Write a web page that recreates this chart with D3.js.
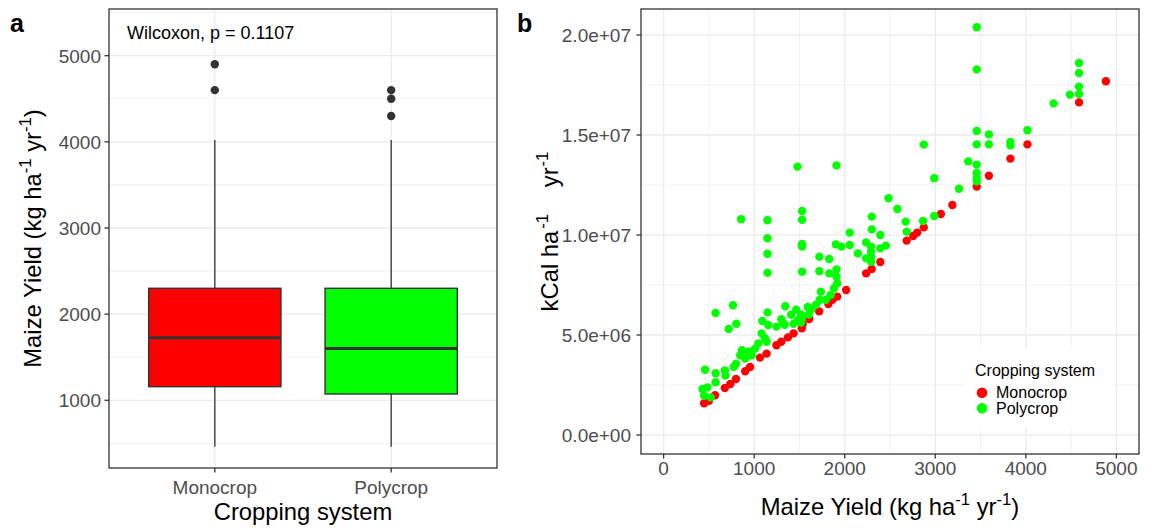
<!DOCTYPE html>
<html><head><meta charset="utf-8">
<script src="https://cdn.jsdelivr.net/npm/d3@7"></script>
<style>body{margin:0;background:#fff}svg{display:block}text{font-family:"Liberation Sans",Arial,sans-serif}</style>
</head><body>
<svg id="c" width="1160" height="528"></svg>
<script>
// ---------- Panel a data ----------
const boxCategories = ["Monocrop", "Polycrop"];
const boxFill = ["#FF0000", "#00FF00"];
const boxLowerWhisker = [460, 460];
const boxQ1 = [1158, 1073];
const boxMedian = [1727, 1600];
const boxQ3 = [2300, 2300];
const boxUpperWhisker = [4020, 4020];
const boxOutliers = [[4900, 4600], [4600, 4500, 4300]];
const aTicks = [1000, 2000, 3000, 4000, 5000];
const aTickLabels = ["1000", "2000", "3000", "4000", "5000"];
const aMinor = [500, 1500, 2500, 3500, 4500, 5500];
const wilcoxLabel = "Wilcoxon, p = 0.1107";

// ---------- Panel b data ----------
const monoYield = [447,501,567,676,737,799,901,955,1064,1137,1246,1300,1373,1435,1526,1536,1609,1718,1820,1864,1918,2016,2236,2298,2393,2684,2756,2800,2873,3062,3189,3458,3592,3830,4018,4588,4884];
const monoKcal = [1.59e6,1.71e6,1.99e6,2.35e6,2.55e6,2.80e6,3.19e6,3.40e6,3.87e6,4.07e6,4.49e6,4.66e6,4.88e6,5.08e6,5.34e6,5.55e6,5.80e6,6.18e6,6.55e6,6.76e6,6.92e6,7.25e6,8.08e6,8.30e6,8.65e6,9.72e6,9.95e6,10.12e6,10.38e6,11.05e6,11.50e6,12.42e6,12.96e6,13.82e6,14.53e6,16.63e6,17.69e6];
const polyYield = [3458,3458,3458,3458,3458,3458,3458,3458,3592,3592,3830,3830,4018,4307,4487,4588,4588,4588,4588,3364,
  1909,2873,2989,3262,2989,2484,2582,2673,2865,2684,2298,2298,2393,2055,2455,2393,2236,2291,2291,2291,2291,2236,2145,2055,1964,1902,1720,1829,1720,1829,1909,1909,1479,
  856,1147,1147,1147,1147,1529,1529,1529,1529,1529,1918,1882,1845,1791,1736,1725,1682,1627,1602,1525,1482,
  574,766,719,803,1148,1344,1090,1155,1246,1337,1435,1518,1082,1119,1046,1137,1010,937,865,846,973,901,799,774,676,574,458,683,574,483,429,447,519,1409,1464,1300,1319,1518,1591];
const polyKcal = [20.39e6,18.28e6,15.2e6,14.53e6,13.52e6,13.1e6,12.85e6,12.68e6,15.03e6,14.53e6,14.65e6,14.48e6,15.24e6,16.58e6,17.02e6,18.6e6,18.1e6,17.42e6,17.05e6,13.68e6,
  13.48e6,14.52e6,12.84e6,12.31e6,10.95e6,11.84e6,11.3e6,10.67e6,10.7e6,10.17e6,10.92e6,10.28e6,10.0e6,10.12e6,9.47e6,9.33e6,9.63e6,9.42e6,9.16e6,8.91e6,8.66e6,8.83e6,9.08e6,9.5e6,9.42e6,9.53e6,8.91e6,8.8e6,8.19e6,8.08e6,8.28e6,7.91e6,13.42e6,
  10.79e6,10.74e6,9.84e6,9.06e6,8.11e6,11.2e6,10.76e6,9.55e6,9.42e6,8.16e6,7.58e6,7.34e6,7.0e6,6.76e6,7.17e6,6.76e6,6.51e6,6.27e6,6.02e6,5.85e6,5.74e6,
  6.1e6,6.49e6,5.3e6,5.56e6,6.13e6,6.44e6,5.7e6,5.5e6,5.42e6,5.51e6,5.56e6,5.62e6,5.08e6,4.83e6,4.58e6,4.66e6,4.32e6,4.16e6,4.24e6,3.99e6,3.99e6,3.82e6,3.56e6,3.4e6,3.23e6,3.09e6,3.26e6,2.97e6,2.64e6,2.38e6,2.3e6,1.96e6,1.88e6,6.01e6,6.27e6,5.79e6,5.59e6,6.01e6,6.4e6];
const bxTicks = [0, 1000, 2000, 3000, 4000, 5000];
const bxTickLabels = ["0", "1000", "2000", "3000", "4000", "5000"];
const bxMinor = [500, 1500, 2500, 3500, 4500];
const byTicks = [0, 5e6, 1e7, 1.5e7, 2e7];
const byTickLabels = ["0.0e+00", "5.0e+06", "1.0e+07", "1.5e+07", "2.0e+07"];
const byMinor = [2.5e6, 7.5e6, 1.25e7, 1.75e7];
const legendTitle = "Cropping system";
const legendLabels = ["Monocrop", "Polycrop"];
const seriesColors = ["#FF0000", "#00FF00"];

const svg = d3.select("#c");
const GRID = "#EBEBEB", DARK = "#333333", TICKTXT = "#4D4D4D";
const TITLE_FS = 23.8, TICK_FS = 19;

function addTitle(sel, pre, mid, post, gap) {
  const up = TITLE_FS * 0.42, g = gap || 0;
  sel.append("tspan").text(pre);
  sel.append("tspan").attr("font-size", TITLE_FS * 0.7).attr("dy", -up).attr("dx", g * 0.1).text("-1");
  sel.append("tspan").attr("dy", up).attr("dx", g).text(mid);
  sel.append("tspan").attr("font-size", TITLE_FS * 0.7).attr("dy", -up).attr("dx", g * 0.05).text("-1");
  if (post) sel.append("tspan").attr("dy", up).text(post);
}

// ================= Panel a =================
const aL = 109, aR = 497, aT = 9, aB = 468;
const xaLin = d3.scaleLinear().domain([0.4, 2.6]).range([aL, aR]);
const ya = d3.scaleLinear().domain([214, 5542]).range([aB, aT]);
const ga = svg.append("g");
ga.append("rect").attr("x", aL).attr("y", aT).attr("width", aR - aL).attr("height", aB - aT).attr("fill", "#fff");
ga.selectAll(".amin").data(aMinor).join("line").attr("x1", aL).attr("x2", aR)
  .attr("y1", d => ya(d)).attr("y2", d => ya(d)).attr("stroke", GRID).attr("stroke-width", 0.7);
ga.selectAll(".amaj").data(aTicks).join("line").attr("x1", aL).attr("x2", aR)
  .attr("y1", d => ya(d)).attr("y2", d => ya(d)).attr("stroke", GRID).attr("stroke-width", 1.3);
ga.selectAll(".avx").data(boxCategories).join("line")
  .attr("x1", (d, i) => xaLin(i + 1)).attr("x2", (d, i) => xaLin(i + 1)).attr("y1", aT).attr("y2", aB)
  .attr("stroke", GRID).attr("stroke-width", 1.3);
const bw = xaLin(1.375) - xaLin(1);
boxCategories.forEach((c, i) => {
  const cx = xaLin(i + 1);
  ga.append("line").attr("x1", cx).attr("x2", cx).attr("y1", ya(boxQ3[i])).attr("y2", ya(boxUpperWhisker[i])).attr("stroke", DARK).attr("stroke-width", 1.3);
  ga.append("line").attr("x1", cx).attr("x2", cx).attr("y1", ya(boxQ1[i])).attr("y2", ya(boxLowerWhisker[i])).attr("stroke", DARK).attr("stroke-width", 1.3);
  ga.append("rect").attr("x", cx - bw).attr("width", 2 * bw).attr("y", ya(boxQ3[i])).attr("height", ya(boxQ1[i]) - ya(boxQ3[i]))
    .attr("fill", boxFill[i]).attr("stroke", DARK).attr("stroke-width", 1.4);
  ga.append("line").attr("x1", cx - bw).attr("x2", cx + bw).attr("y1", ya(boxMedian[i])).attr("y2", ya(boxMedian[i])).attr("stroke", DARK).attr("stroke-width", 3);
  ga.selectAll(null).data(boxOutliers[i]).join("circle").attr("cx", cx).attr("cy", d => ya(d)).attr("r", 4.2).attr("fill", DARK);
});
ga.append("rect").attr("x", aL).attr("y", aT).attr("width", aR - aL).attr("height", aB - aT).attr("fill", "none").attr("stroke", DARK).attr("stroke-width", 1.3);
ga.append("text").attr("x", 127).attr("y", 39).attr("font-size", 18).attr("fill", "#000").text(wilcoxLabel);
ga.selectAll(".atk").data(aTicks).join("line").attr("x1", aL - 4.5).attr("x2", aL).attr("y1", d => ya(d)).attr("y2", d => ya(d)).attr("stroke", DARK).attr("stroke-width", 1.3);
ga.selectAll(".atl").data(aTicks).join("text").attr("x", aL - 8).attr("y", d => ya(d)).attr("dy", "0.36em")
  .attr("text-anchor", "end").attr("font-size", TICK_FS).attr("fill", TICKTXT).text((d, i) => aTickLabels[i]);
boxCategories.forEach((c, i) => {
  const cx = xaLin(i + 1);
  ga.append("line").attr("x1", cx).attr("x2", cx).attr("y1", aB).attr("y2", aB + 4.5).attr("stroke", DARK).attr("stroke-width", 1.3);
  ga.append("text").attr("x", cx).attr("y", 494).attr("text-anchor", "middle").attr("font-size", TICK_FS).attr("fill", TICKTXT).text(c);
});
ga.append("text").attr("x", (aL + aR) / 2).attr("y", 520).attr("text-anchor", "middle").attr("font-size", TITLE_FS).attr("fill", "#000").text("Cropping system");
const aYT = ga.append("text").attr("transform", `translate(41,${(aT + aB) / 2}) rotate(-90)`).attr("text-anchor", "middle").attr("font-size", TITLE_FS).attr("fill", "#000");
addTitle(aYT, "Maize Yield (kg ha", " yr", ")");
svg.append("text").attr("x", 10).attr("y", 32).attr("font-size", 25).attr("font-weight", "bold").text("a");

// ================= Panel b =================
const bL = 641, bR = 1139, bT = 9, bB = 454;
const xb = d3.scaleLinear().domain([-250, 5250]).range([bL, bR]);
const yb = d3.scaleLinear().domain([-0.95e6, 21.3e6]).range([bB, bT]);
const gb = svg.append("g");
gb.append("rect").attr("x", bL).attr("y", bT).attr("width", bR - bL).attr("height", bB - bT).attr("fill", "#fff");
gb.selectAll(".bxm").data(bxMinor).join("line").attr("x1", d => xb(d)).attr("x2", d => xb(d)).attr("y1", bT).attr("y2", bB).attr("stroke", GRID).attr("stroke-width", 0.7);
gb.selectAll(".bym").data(byMinor).join("line").attr("y1", d => yb(d)).attr("y2", d => yb(d)).attr("x1", bL).attr("x2", bR).attr("stroke", GRID).attr("stroke-width", 0.7);
gb.selectAll(".bxM").data(bxTicks).join("line").attr("x1", d => xb(d)).attr("x2", d => xb(d)).attr("y1", bT).attr("y2", bB).attr("stroke", GRID).attr("stroke-width", 1.3);
gb.selectAll(".byM").data(byTicks).join("line").attr("y1", d => yb(d)).attr("y2", d => yb(d)).attr("x1", bL).attr("x2", bR).attr("stroke", GRID).attr("stroke-width", 1.3);
gb.selectAll(".mono").data(monoYield).join("circle").attr("cx", d => xb(d)).attr("cy", (d, i) => yb(monoKcal[i])).attr("r", 4.2).attr("fill", seriesColors[0]);
gb.selectAll(".poly").data(polyYield).join("circle").attr("cx", d => xb(d)).attr("cy", (d, i) => yb(polyKcal[i])).attr("r", 4.2).attr("fill", seriesColors[1]);
gb.append("rect").attr("x", 963).attr("y", 348).attr("width", 150).attr("height", 80).attr("fill", "#fff");
gb.append("text").attr("x", 975).attr("y", 376).attr("font-size", 16).attr("fill", "#000").text(legendTitle);
legendLabels.forEach((l, i) => {
  const cy = 392.7 + i * 15.6;
  gb.append("circle").attr("cx", 982).attr("cy", cy).attr("r", 5.3).attr("fill", seriesColors[i]);
  gb.append("text").attr("x", 996).attr("y", cy).attr("dy", "0.36em").attr("font-size", 16).attr("fill", "#000").text(l);
});
gb.append("rect").attr("x", bL).attr("y", bT).attr("width", bR - bL).attr("height", bB - bT).attr("fill", "none").attr("stroke", DARK).attr("stroke-width", 1.3);
gb.selectAll(".bxt").data(bxTicks).join("line").attr("x1", d => xb(d)).attr("x2", d => xb(d)).attr("y1", bB).attr("y2", bB + 4.5).attr("stroke", DARK).attr("stroke-width", 1.3);
gb.selectAll(".bxl").data(bxTicks).join("text").attr("x", d => xb(d)).attr("y", 475).attr("text-anchor", "middle").attr("font-size", TICK_FS).attr("fill", TICKTXT).text((d, i) => bxTickLabels[i]);
gb.selectAll(".byt").data(byTicks).join("line").attr("y1", d => yb(d)).attr("y2", d => yb(d)).attr("x1", bL - 4.5).attr("x2", bL).attr("stroke", DARK).attr("stroke-width", 1.3);
gb.selectAll(".byl").data(byTicks).join("text").attr("x", bL - 10).attr("y", d => yb(d)).attr("dy", "0.36em").attr("text-anchor", "end").attr("font-size", TICK_FS).attr("fill", TICKTXT).text((d, i) => byTickLabels[i]);
const bXT = gb.append("text").attr("x", (bL + bR) / 2).attr("y", 515).attr("text-anchor", "middle").attr("font-size", TITLE_FS).attr("fill", "#000");
addTitle(bXT, "Maize Yield (kg ha", " yr", ")");
const bYT = gb.append("text").attr("transform", `translate(558,${(bT + bB) / 2}) rotate(-90)`).attr("text-anchor", "middle").attr("font-size", TITLE_FS).attr("fill", "#000");
addTitle(bYT, "kCal ha", " yr", "", 20);
svg.append("text").attr("x", 517).attr("y", 32).attr("font-size", 25).attr("font-weight", "bold").text("b");
</script>
</body></html>
